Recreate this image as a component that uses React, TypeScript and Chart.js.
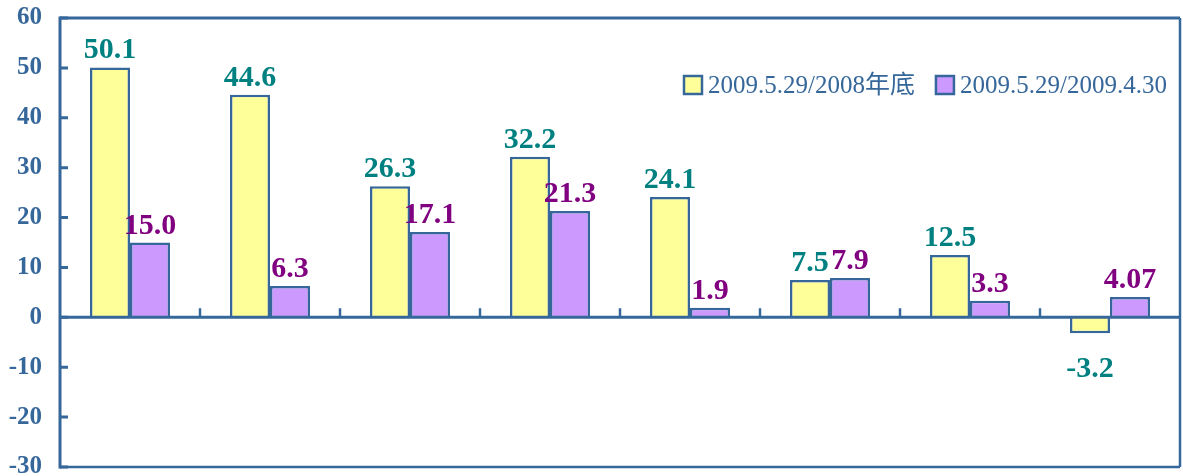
import React, { useEffect, useRef } from 'react';
import { Chart, registerables } from 'chart.js';

Chart.register(...registerables);

const categories = ['1', '2', '3', '4', '5', '6', '7', '8'];
const seriesNames = ['2009.5.29/2008年底', '2009.5.29/2009.4.30'];
const seriesA = [50.1, 44.6, 26.3, 32.2, 24.1, 7.5, 12.5, -3.2];
const seriesB = [15.0, 6.3, 17.1, 21.3, 1.9, 7.9, 3.3, 4.07];
const labelsA = ['50.1', '44.6', '26.3', '32.2', '24.1', '7.5', '12.5', '-3.2'];
const labelsB = ['15.0', '6.3', '17.1', '21.3', '1.9', '7.9', '3.3', '4.07'];
const yMin = -30;
const yMax = 60;
const yStep = 10;

const AXIS = '#36679A';
const FILL_A = '#FFFF99';
const FILL_B = '#CC99FF';
const LABEL_A = '#008080';
const LABEL_B = '#800080';
const SERIF = '"Liberation Serif", "Times New Roman", "Noto Sans CJK TC", serif';

const framePlugin = {
  id: 'frame',
  afterDatasetsDraw(chart: any) {
    const { ctx, chartArea: a, scales } = chart;
    const x = scales.x;
    const y = scales.y;
    ctx.save();
    ctx.strokeStyle = AXIS;
    ctx.lineCap = 'butt';
    ctx.lineWidth = 3;
    ctx.beginPath();
    ctx.moveTo(a.left, a.top);
    ctx.lineTo(a.right, a.top);
    ctx.stroke();
    ctx.lineWidth = 2.5;
    ctx.beginPath();
    ctx.moveTo(a.right, a.top);
    ctx.lineTo(a.right, a.bottom);
    ctx.moveTo(a.left, a.bottom);
    ctx.lineTo(a.right, a.bottom);
    ctx.stroke();
    ctx.lineWidth = 3;
    ctx.beginPath();
    ctx.moveTo(a.left, a.top - 1.5);
    ctx.lineTo(a.left, a.bottom + 1.5);
    ctx.stroke();
    ctx.lineWidth = 3;
    ctx.beginPath();
    for (let v = yMin; v <= yMax; v += yStep) {
      const py = y.getPixelForValue(v);
      ctx.moveTo(a.left, py);
      ctx.lineTo(a.left + 8, py);
    }
    ctx.stroke();
    const y0 = y.getPixelForValue(0);
    ctx.lineWidth = 3;
    ctx.beginPath();
    ctx.moveTo(a.left, y0);
    ctx.lineTo(a.right, y0);
    ctx.stroke();
    ctx.lineWidth = 2.5;
    ctx.beginPath();
    for (let i = 1; i < categories.length; i++) {
      const px = (x.getPixelForValue(i - 1) + x.getPixelForValue(i)) / 2;
      ctx.moveTo(px, y0);
      ctx.lineTo(px, y0 - 9);
    }
    ctx.stroke();

    ctx.font = `bold 30px ${SERIF}`;
    ctx.textAlign = 'center';
    ctx.textBaseline = 'alphabetic';
    const sets = [
      { labels: labelsA, color: LABEL_A, values: seriesA },
      { labels: labelsB, color: LABEL_B, values: seriesB },
    ];
    sets.forEach((s, di) => {
      const meta = chart.getDatasetMeta(di);
      meta.data.forEach((bar: any, i: number) => {
        ctx.fillStyle = s.color;
        if (s.values[i] >= 0) {
          ctx.fillText(s.labels[i], bar.x, bar.y - 9);
        } else {
          ctx.fillText(s.labels[i], bar.x, bar.y + 44);
        }
      });
    });
    ctx.restore();
  },
  afterDraw(chart: any) {
    const { ctx, chartArea: a } = chart;
    ctx.save();
    ctx.font = `25px ${SERIF}`;
    ctx.textBaseline = 'middle';
    ctx.textAlign = 'left';
    let px = a.left + 624;
    const cy = 85;
    const fills = [FILL_A, FILL_B];
    seriesNames.forEach((name, i) => {
      ctx.fillStyle = fills[i];
      ctx.fillRect(px, cy - 9, 18, 18);
      ctx.strokeStyle = AXIS;
      ctx.lineWidth = 2.5;
      ctx.strokeRect(px, cy - 9, 18, 18);
      ctx.fillStyle = AXIS;
      ctx.fillText(name, px + 24, cy + 1);
      px += 24 + ctx.measureText(name).width + 21;
    });
    ctx.restore();
  },
};

export default function App() {
  const ref = useRef<HTMLCanvasElement | null>(null);
  useEffect(() => {
    document.body.style.margin = '0';
    if (!ref.current) return;
    const chart = new Chart(ref.current, {
      type: 'bar',
      data: {
        labels: categories,
        datasets: [
          {
            label: seriesNames[0],
            data: seriesA,
            backgroundColor: FILL_A,
            borderColor: AXIS,
            borderWidth: 2.5,
            categoryPercentage: 0.5714,
            barPercentage: 1,
          },
          {
            label: seriesNames[1],
            data: seriesB,
            backgroundColor: FILL_B,
            borderColor: AXIS,
            borderWidth: 2.5,
            categoryPercentage: 0.5714,
            barPercentage: 1,
          },
        ],
      },
      options: {
        responsive: false,
        animation: false,
        layout: { padding: { top: 18, right: 3, bottom: 9, left: 0 } },
        plugins: {
          legend: { display: false },
          tooltip: { enabled: false },
        },
        scales: {
          x: { display: false, offset: true },
          y: {
            min: yMin,
            max: yMax,
            afterFit: (scale: any) => {
              scale.width = 60;
              scale.paddingTop = 0;
              scale.paddingBottom = 0;
            },
            ticks: {
              stepSize: yStep,
              padding: 18,
              color: AXIS,
              font: { family: SERIF, size: 25, weight: 'bold', lineHeight: 1 },
            },
            grid: { display: false, drawTicks: false },
            border: { display: false },
          },
        },
      },
      plugins: [framePlugin],
    });
    return () => chart.destroy();
  }, []);
  return (
    <div style={{ width: 1183, height: 476, background: '#fff' }}>
      <canvas ref={ref} width={1183} height={476} />
    </div>
  );
}
